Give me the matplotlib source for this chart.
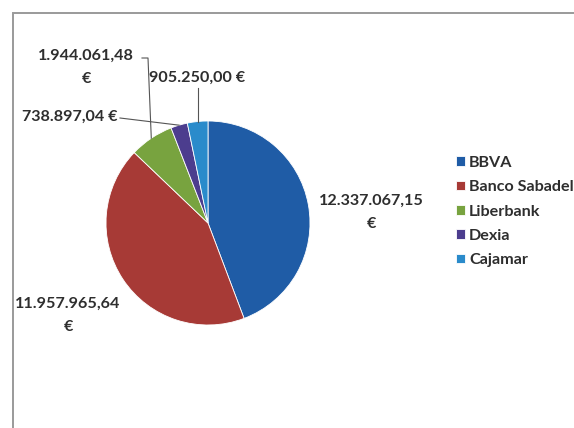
import numpy as np
import matplotlib
matplotlib.use("Agg")
import matplotlib.pyplot as plt
from matplotlib.patches import Rectangle

# ----------------------------
# Data
# ----------------------------
banks = ["BBVA", "Banco Sabadell", "Liberbank", "Dexia", "Cajamar"]
amounts = [12337067.15, 11957965.64, 1944061.48, 738897.04, 905250.00]
value_labels = ["12.337.067,15\n€", "11.957.965,64\n€", "1.944.061,48\n€",
                "738.897,04 €", "905.250,00 €"]
colors = ["#1f5ca6", "#a73a36", "#78a33f", "#4c3d8e", "#2a8bcb"]

plt.rcParams["font.family"] = ["Lato", "DejaVu Sans"]
plt.rcParams["font.weight"] = "bold"

W, H = 574, 428
fig = plt.figure(figsize=(W / 100, H / 100), dpi=100)
ax = fig.add_axes([0, 0, 1, 1])

cx, cy, r = 208, H - 223, 102
wedges, _ = ax.pie(amounts, colors=colors, startangle=90, counterclock=False,
                   center=(cx, cy), radius=r,
                   wedgeprops=dict(linewidth=0.6, edgecolor="white"))
ax.set_xlim(0, W)
ax.set_ylim(0, H)
ax.set_aspect("equal")
ax.axis("off")

# chart frame (runs off the right/bottom edges like the scan)
ax.add_patch(Rectangle((13, -20), W, H - 13 + 20, fill=False,
                       edgecolor="#9a9a9a", linewidth=1.4, zorder=0))


def edge_point(w):
    a = np.deg2rad((w.theta1 + w.theta2) / 2)
    return cx + r * np.cos(a), cy + r * np.sin(a)


txt = dict(fontsize=11.6, color="#2e2e2e", fontweight="bold",
           linespacing=1.85, va="center")

# BBVA and Sabadell, no leader line
ax.text(371, H - 212, value_labels[0], ha="center", **txt)
ax.text(68, H - 315, value_labels[1], ha="center", **txt)

# Liberbank with elbow leader
ax.text(86, H - 67, value_labels[2], ha="center", **txt)
px, py = edge_point(wedges[2])
ax.plot([142, 148, px], [H - 58, H - 58, py], color="#555555", lw=0.8)

# Dexia
ax.text(118, H - 117, value_labels[3], ha="right", **txt)
px, py = edge_point(wedges[3])
ax.plot([120, px], [H - 118, py], color="#555555", lw=0.8)

# Cajamar
ax.text(197, H - 78, value_labels[4], ha="center", **txt)
px, py = edge_point(wedges[4])
ax.plot([px, px], [H - 88, py], color="#555555", lw=0.8)

ax.legend(wedges, banks, loc="upper left", bbox_to_anchor=(456 / W, 1 - 156 / H),
          bbox_transform=fig.transFigure, frameon=False, fontsize=11.6,
          handlelength=0.55, handleheight=0.55, handletextpad=0.25,
          labelspacing=0.64, borderaxespad=0, borderpad=0,
          labelcolor="#2e2e2e")

fig.savefig("out.png", dpi=100)
